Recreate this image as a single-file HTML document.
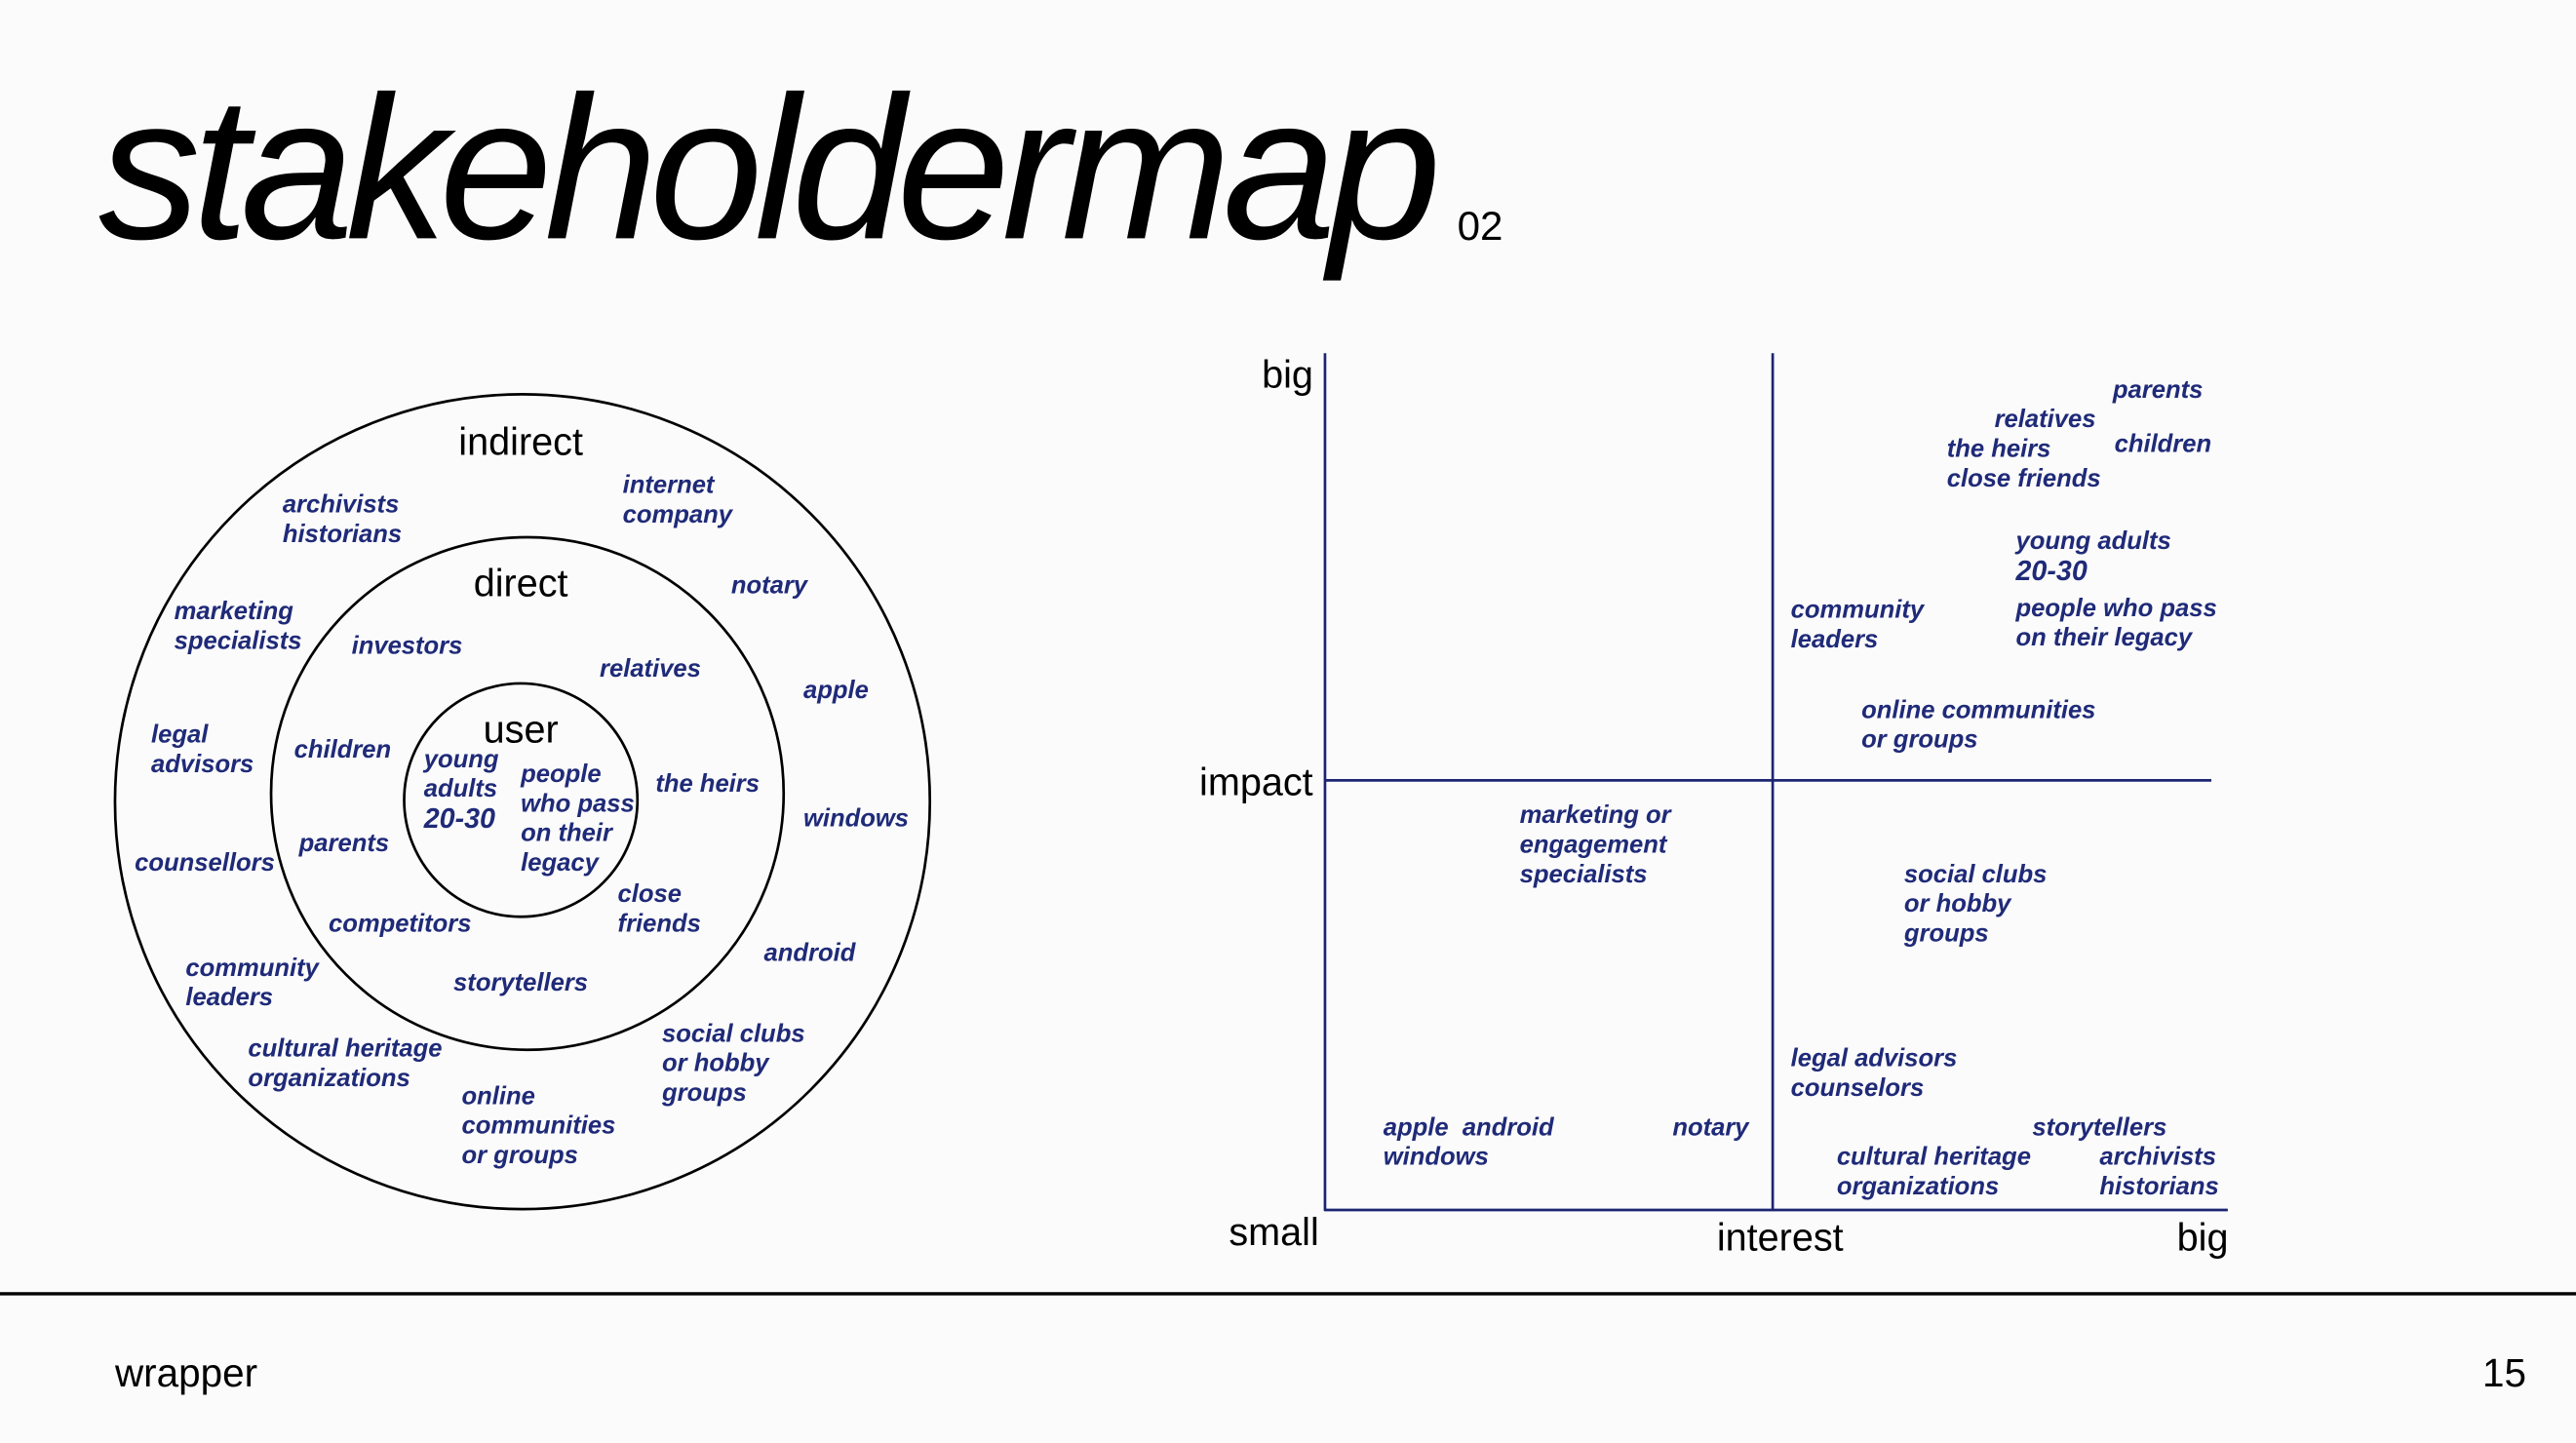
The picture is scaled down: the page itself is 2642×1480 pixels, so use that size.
<!DOCTYPE html>
<html><head><meta charset="utf-8"><style>
html,body{margin:0;padding:0;background:#fbfbfb;}
body{width:2642px;height:1480px;overflow:hidden;position:relative;}
#s{position:absolute;left:0;top:0;width:1568px;height:878px;transform:scale(1.685);transform-origin:0 0;font-family:"Liberation Sans",sans-serif;}
.t{position:absolute;font-style:italic;font-weight:bold;color:#1f2a78;font-size:15.2px;line-height:18px;white-space:nowrap;}
.b{position:absolute;color:#000;font-size:23.5px;line-height:24px;white-space:nowrap;}
.c{transform:translateX(-50%);}
</style></head><body><div id="s">
<div style="position:absolute;left:60px;top:33px;font-size:124px;line-height:140px;font-style:italic;letter-spacing:-5px;color:#000;">stakeholdermap</div>
<div style="position:absolute;left:887px;top:124px;font-size:25px;color:#000;">02</div>
<svg width="1568" height="878" style="position:absolute;left:0;top:0">
<circle cx="318" cy="488" r="248" fill="none" stroke="#000" stroke-width="1.6"/>
<circle cx="321" cy="483" r="156" fill="none" stroke="#000" stroke-width="1.6"/>
<circle cx="317" cy="487" r="71" fill="none" stroke="#000" stroke-width="1.6"/>
<g stroke="#1b2571" stroke-width="1.6">
<line x1="806.5" y1="215" x2="806.5" y2="737"/>
<line x1="806" y1="736.5" x2="1356" y2="736.5"/>
<line x1="1079" y1="215" x2="1079" y2="737"/>
<line x1="806" y1="475" x2="1346" y2="475"/>
</g>
<line x1="0" y1="787.5" x2="1568" y2="787.5" stroke="#000" stroke-width="2"/>
</svg>
<div class="b c" style="left:317px;top:257px">indirect</div>
<div class="b c" style="left:317px;top:343px">direct</div>
<div class="b c" style="left:317px;top:432px">user</div>
<div class="t" style="left:172px;top:299px">archivists<br>historians</div>
<div class="t" style="left:379px;top:287px">internet<br>company</div>
<div class="t" style="left:445px;top:348px">notary</div>
<div class="t" style="left:106px;top:364px">marketing<br>specialists</div>
<div class="t" style="left:214px;top:385px">investors</div>
<div class="t" style="left:365px;top:399px">relatives</div>
<div class="t" style="left:489px;top:412px">apple</div>
<div class="t" style="left:92px;top:439px">legal<br>advisors</div>
<div class="t" style="left:179px;top:448px">children</div>
<div class="t" style="left:258px;top:454px">young<br>adults<br><span style="font-size:17px">20-30</span></div>
<div class="t" style="left:317px;top:463px">people<br>who pass<br>on their<br>legacy</div>
<div class="t" style="left:399px;top:469px">the heirs</div>
<div class="t" style="left:489px;top:490px">windows</div>
<div class="t" style="left:182px;top:505px">parents</div>
<div class="t" style="left:82px;top:517px">counsellors</div>
<div class="t" style="left:376px;top:536px">close<br>friends</div>
<div class="t" style="left:200px;top:554px">competitors</div>
<div class="t" style="left:465px;top:572px">android</div>
<div class="t" style="left:113px;top:581px">community<br>leaders</div>
<div class="t" style="left:276px;top:590px">storytellers</div>
<div class="t" style="left:151px;top:630px">cultural heritage<br>organizations</div>
<div class="t" style="left:403px;top:621px">social clubs<br>or hobby<br>groups</div>
<div class="t" style="left:281px;top:659px">online<br>communities<br>or groups</div>

<div class="b" style="left:768px;top:216px">big</div>
<div class="b" style="left:730px;top:464px">impact</div>
<div class="b" style="left:748px;top:738px">small</div>
<div class="b" style="left:1045px;top:741px">interest</div>
<div class="b" style="left:1325px;top:741px">big</div>

<div class="t" style="left:1286px;top:229px">parents</div>
<div class="t" style="left:1214px;top:247px">relatives</div>
<div class="t" style="left:1287px;top:262px">children</div>
<div class="t" style="left:1185px;top:265px">the heirs<br>close friends</div>
<div class="t" style="left:1227px;top:321px">young adults<br><span style="font-size:17px">20-30</span></div>
<div class="t" style="left:1090px;top:363px">community<br>leaders</div>
<div class="t" style="left:1227px;top:362px">people who pass<br>on their legacy</div>
<div class="t" style="left:1133px;top:424px">online communities<br>or groups</div>
<div class="t" style="left:925px;top:488px">marketing or<br>engagement<br>specialists</div>
<div class="t" style="left:1159px;top:524px">social clubs<br>or hobby<br>groups</div>
<div class="t" style="left:1090px;top:636px">legal advisors<br>counselors</div>
<div class="t" style="left:842px;top:678px">apple&nbsp; android<br>windows</div>
<div class="t" style="left:1018px;top:678px">notary</div>
<div class="t" style="left:1237px;top:678px">storytellers</div>
<div class="t" style="left:1118px;top:696px">cultural heritage<br>organizations</div>
<div class="t" style="left:1278px;top:696px">archivists<br>historians</div>

<div style="position:absolute;left:70px;top:823px;font-size:24px;color:#000;">wrapper</div>
<div style="position:absolute;left:1511px;top:823px;font-size:24px;color:#000;">15</div>
</div></body></html>
